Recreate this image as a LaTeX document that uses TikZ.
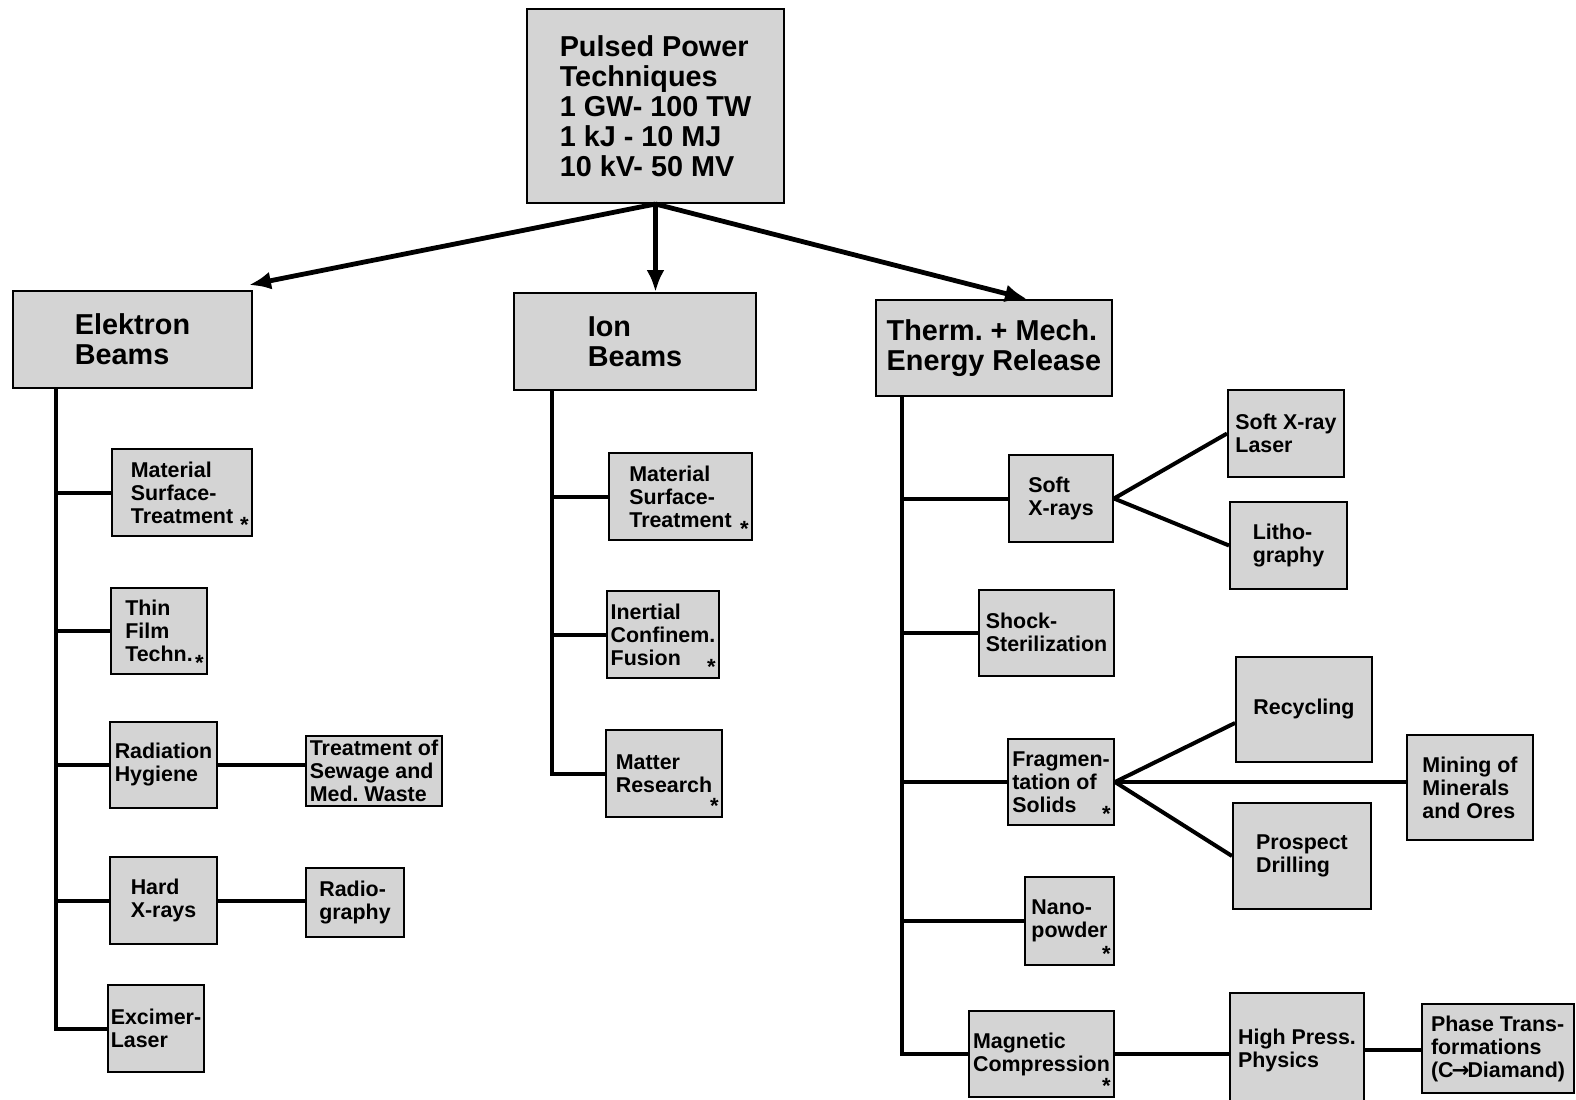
\documentclass[tikz,border=0pt]{standalone}
\usepackage{fontspec}
\setmainfont{Liberation Sans}
\newfontfamily\symfont{DejaVu Sans}
\usetikzlibrary{arrows.meta}
\frenchspacing

\tikzset{
	box/.style={draw, line width=1pt, fill=black!17, inner sep=1.5pt, align=left},
	head/.style={box, font=\fontsize{14.4}{15}\selectfont\bfseries},
	leaf/.style={box, font=\fontsize{10.7}{11.5}\selectfont\bfseries},
	starred/.style={label={[anchor=south east, inner sep=2pt, font=\fontsize{11}{11}\selectfont\bfseries]south east:*}},
	link/.style={line width=2pt},
	feed/.style={line width=2.4pt, -{Latex[length=11pt, width=9pt]}}
}

\begin{document}
\begin{tikzpicture}[x=0.5pt, y=-0.5pt]
	\useasboundingbox (0,0) rectangle (1576,1099);

	\node[head, minimum width=128.5pt, minimum height=97pt] (top) at (655.5,106)
		{Pulsed Power\\Techniques\\1 GW- 100 TW\\1 kJ - 10 MJ\\10 kV- 50 MV};

	\node[head, minimum width=119.5pt, minimum height=48.5pt] (elek) at (132.5,339.5) {Elektron\\Beams};
	\node[head, minimum width=121pt, minimum height=48.5pt] (ion) at (635,341.5) {Ion\\Beams};
	\node[head, minimum width=118pt, minimum height=48pt] (therm) at (994,348) {Therm. + Mech.\\Energy Release};

	\draw[feed] (top.south) -- ([xshift=-2pt, yshift=2.5pt]elek.north east);
	\draw[feed] (top.south) -- (top.south |- ion.north);
	\draw[feed] (top.south) -- ([xshift=16.5pt]therm.north);

	\node[leaf, starred, minimum width=70pt, minimum height=43.5pt] (emst) at (182,492.5) {Material\\Surface-\\Treatment\hspace{8pt}};
	\node[leaf, starred, minimum width=48pt, minimum height=43pt] (thin) at (159,631) {Thin\\Film\\Techn.};
	\node[leaf, minimum width=53.5pt, minimum height=43pt] (rad) at (163.5,765) {Radiation\\Hygiene};
	\node[leaf, minimum width=68pt, minimum height=35pt] (sew) at (374,771) {Treatment of\\Sewage and\\Med. Waste};
	\node[leaf, minimum width=53.5pt, minimum height=43.5pt] (hard) at (163.5,900.5) {Hard\\X-rays};
	\node[leaf, minimum width=49pt, minimum height=34.5pt] (radio) at (355,902.5) {Radio-\\graphy};
	\node[leaf, minimum width=48pt, minimum height=43.5pt] (exc) at (156,1028.5) {Excimer-\\Laser};

	\foreach \n in {emst,thin,rad,hard,exc}
		\draw[link] ([xshift=22pt]elek.south west) |- (\n.west);
	\draw[link] (rad.east) -- (rad.east -| sew.west);
	\draw[link] (hard.east) -- (hard.east -| radio.west);

	\node[leaf, starred, minimum width=71.5pt, minimum height=43.5pt] (imst) at (680.5,496.5) {Material\\Surface-\\Treatment\hspace{8pt}};
	\node[leaf, starred, minimum width=56pt, minimum height=43.5pt] (icf) at (663,634.5) {Inertial\\Confinem.\\Fusion};
	\node[leaf, starred, minimum width=58pt, minimum height=43.5pt] (matter) at (664,773.5) {Matter\\Research};

	\foreach \n in {imst,icf,matter}
		\draw[link] ([xshift=19.5pt]ion.south west) |- (\n.west);

	\node[leaf, minimum width=52pt, minimum height=43.5pt] (soft) at (1061,498.5) {Soft\\X-rays};
	\node[leaf, minimum width=58pt, minimum height=43.5pt] (laser) at (1286,433.5) {Soft X-ray\\Laser};
	\node[leaf, minimum width=58.5pt, minimum height=43.5pt] (litho) at (1288.5,545.5) {Litho-\\graphy};
	\node[leaf, minimum width=67.5pt, minimum height=43pt] (shock) at (1046.5,632.5) {Shock-\\Sterilization};
	\node[leaf, starred, minimum width=53pt, minimum height=43pt] (frag) at (1061,782) {Fragmen-\\tation of\\Solids};
	\node[leaf, minimum width=68pt, minimum height=52.5pt] (recyc) at (1304,709.5) {Recycling};
	\node[leaf, minimum width=69pt, minimum height=53pt] (prosp) at (1302,856) {Prospect\\Drilling};
	\node[leaf, minimum width=63pt, minimum height=52.5pt] (mining) at (1470,787.5) {Mining of\\Minerals\\and Ores};
	\node[leaf, starred, minimum width=44.5pt, minimum height=44pt] (nano) at (1069.5,921) {Nano-\\powder};
	\node[leaf, starred, minimum width=72.5pt, minimum height=43pt] (magn) at (1041.5,1054) {Magnetic\\Compression};
	\node[leaf, minimum width=67pt, minimum height=57pt] (hpp) at (1297,1050) {High Press.\\Physics};
	\node[leaf, minimum width=76pt, minimum height=44.5pt] (phase) at (1498,1048.5)
		{Phase Trans-\\formations\\(C{\symfont\kern-1pt→\kern-1pt}Diamand)};

	\foreach \n in {soft,shock,frag,nano,magn}
		\draw[link] ([xshift=13.5pt]therm.south west) |- (\n.west);
	\draw[link] (soft.east) -- (laser.west);
	\draw[link] (soft.east) -- (litho.west);
	\draw[link] (frag.east) -- ([yshift=-6.75pt]recyc.west);
	\draw[link] (frag.east) -- (frag.east -| mining.west);
	\draw[link] (frag.east) -- (prosp.west);
	\draw[link] (magn.east) -- (magn.east -| hpp.west);
	\draw[link] (hpp.east) -- (hpp.east -| phase.west);
\end{tikzpicture}
\end{document}
